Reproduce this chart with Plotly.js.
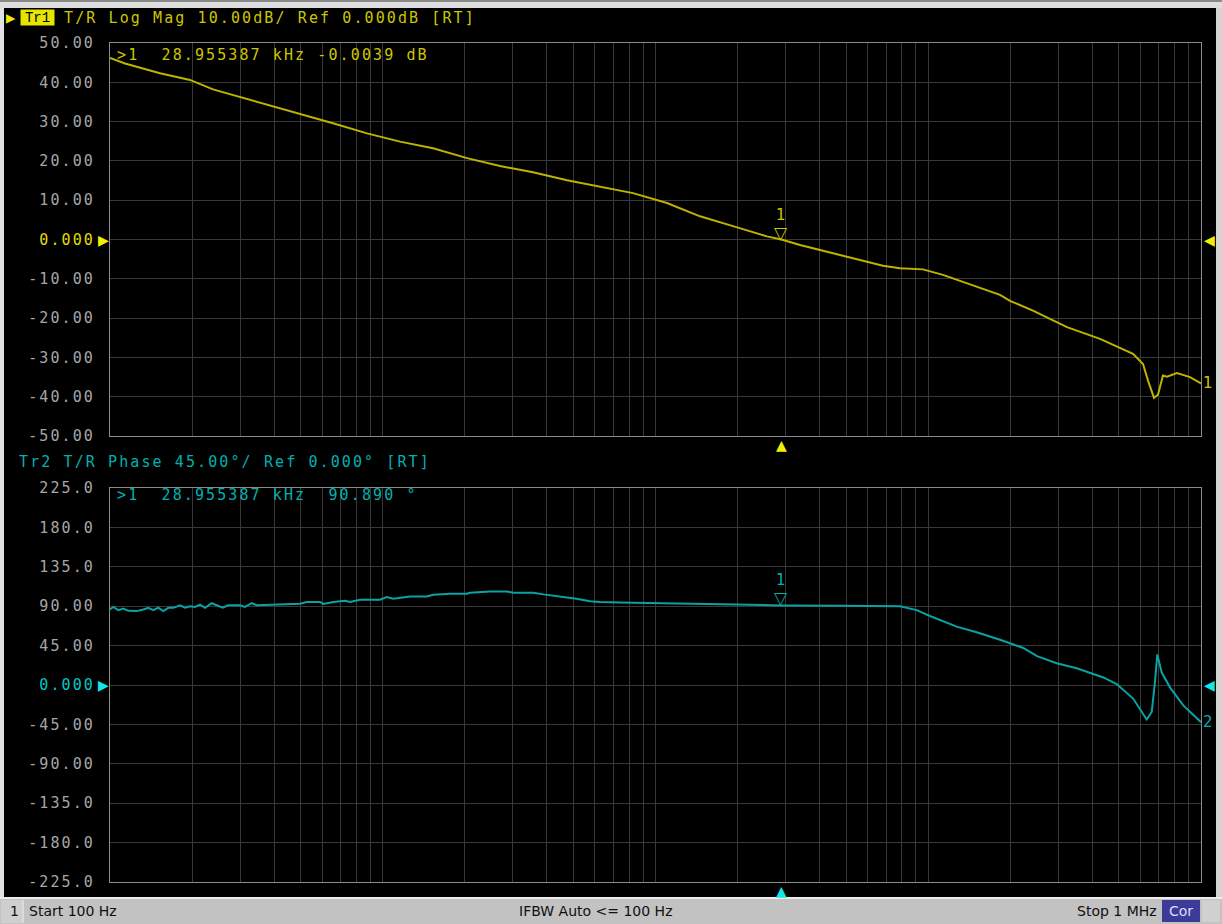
<!DOCTYPE html>
<html><head><meta charset="utf-8">
<script src="https://cdn.plot.ly/plotly-3.0.1.min.js"></script>
<style>
html,body{margin:0;padding:0;background:#c8c8c8;overflow:hidden;}
#chart{width:1222px;height:924px;}
text[style*="DejaVu Sans Mono"]{letter-spacing:2.1px;}
</style></head><body><div id="chart"></div>
<script>
// ---- data ----
const magFreqHz = [100, 113.5, 152.5, 196.5, 238.6, 299.6, 396, 497, 657, 876, 1157, 1529, 2037, 2691, 3555, 4738, 6259, 8270, 11020, 14560, 19240, 25630, 28955.387, 33870, 44760, 59630, 68230, 78780, 95680, 113200, 138700, 183300, 199400, 242100, 322600, 426300, 563300, 613000, 639300, 672500, 695500, 725400, 750300, 816600, 911200, 1000000];
const magDb = [46.2, 44.8, 42.3, 40.6, 38.2, 36.3, 33.8, 32.1, 29.6, 27.0, 24.9, 23.2, 20.7, 18.7, 17.1, 15.1, 13.4, 11.8, 9.3, 5.9, 3.4, 0.8, -0.0039, -1.4, -3.5, -5.6, -6.7, -7.3, -7.6, -9.0, -11.1, -14.1, -15.6, -18.1, -22.3, -25.3, -29.1, -31.7, -35.9, -40.3, -39.5, -34.6, -34.9, -34.0, -35.0, -36.6];

const phaseFreqHz = [100, 102.8, 107.3, 111.9, 116.7, 125.3, 132.5, 138.2, 144.1, 150.3, 156.8, 163.6, 170.7, 180.6, 188.4, 196.5, 204.9, 213.8, 223, 236, 246.2, 259, 271.5, 299.6, 312.6, 330.7, 345.1, 408.7, 497.3, 526.3, 588.8, 605.4, 658.9, 727, 758.6, 825.4, 977, 1034, 1093, 1259, 1449, 1532, 1765, 2032, 2089, 2474, 2847, 3010, 3565, 3878, 4466, 5141, 5752, 6259, 7413, 10390, 17240, 28955.387, 47490, 78780, 90700, 101500, 127100, 150500, 183300, 223100, 250500, 295800, 350200, 438300, 490900, 564800, 632200, 659600, 678200, 691500, 717700, 769600, 861100, 991600, 1000000];
const phaseDeg = [86.2, 89.2, 85.5, 87.3, 84.7, 84.4, 86.2, 88.1, 85.5, 88.4, 84.4, 88.1, 88.1, 91.1, 88.4, 90.0, 89.2, 91.8, 88.1, 93.4, 91.1, 88.4, 91.1, 91.1, 89.2, 93.4, 91.1, 91.8, 92.9, 94.8, 94.8, 92.6, 94.8, 96.3, 94.8, 97.4, 97.4, 100.5, 98.6, 101.2, 101.2, 103.1, 104.2, 104.2, 105.3, 106.9, 106.9, 105.3, 105.3, 103.5, 101.2, 98.6, 95.6, 94.8, 94.1, 93.3, 92.0, 90.89, 90.6, 90.0, 85.5, 78.8, 66.7, 60.3, 51.7, 42.3, 33.0, 24.8, 19.1, 8.6, 1.1, -15.8, -39.4, -30.8, 3.6, 34.9, 14.2, -2.7, -23.3, -42.1, -42.5];

const markerFreqHz = 28955.387;
const markerMagDb = -0.0039;
const markerPhaseDeg = 90.890;

const magTickVals = [50, 40, 30, 20, 10, 0, -10, -20, -30, -40, -50];
const magTickText = ['50.00', '40.00', '30.00', '20.00', '10.00', '<span style="color:#e0dc00">0.000</span>', '-10.00', '-20.00', '-30.00', '-40.00', '-50.00'];
const phaseTickVals = [225, 180, 135, 90, 45, 0, -45, -90, -135, -180, -225];
const phaseTickText = ['225.0', '180.0', '135.0', '90.00', '45.00', '<span style="color:#00c8c8">0.000</span>', '-45.00', '-90.00', '-135.0', '-180.0', '-225.0'];

const tr1Title = 'T/R Log Mag 10.00dB/ Ref 0.000dB [RT]';
const tr2Title = 'Tr2 T/R Phase 45.00°/ Ref 0.000° [RT]';
const statusStart = 'Start 100 Hz';
const statusIfbw = 'IFBW Auto &lt;= 100 Hz';
const statusStop = 'Stop 1 MHz';

// ---- geometry helpers (pixels -> paper) ----
const L = 110, R = 1201, T = 43, B = 882;
const px = x => (x - L) / (R - L);
const py = y => (B - y) / (B - T);

const YEL = '#bdb400', YEL_T = '#ccc600', YEL_B = '#f2f000';
const CYN = '#0aa2a2', CYN_T = '#00b0b0', CYN_B = '#10e8e8';
const GRID = '#383838', FRAME = '#8c8c8c';
const MONO = 'DejaVu Sans Mono';
const fmt = (v, d) => v.toFixed(d);
const nb = '\u00A0';

const traces = [
  {x: magFreqHz, y: magDb, xaxis: 'x', yaxis: 'y', mode: 'lines', line: {color: YEL, width: 2}, hoverinfo: 'skip'},
  {x: phaseFreqHz, y: phaseDeg, xaxis: 'x2', yaxis: 'y2', mode: 'lines', line: {color: CYN, width: 2}, hoverinfo: 'skip'}
];

const xCommon = {type: 'log', range: [2, 6], dtick: 'D1', showticklabels: false, ticks: '',
  showgrid: true, gridcolor: GRID, gridwidth: 1, zeroline: false,
  showline: true, mirror: true, linecolor: FRAME, linewidth: 1};
const yCommon = {tickmode: 'array', ticks: '', ticklabelstandoff: 11,
  tickfont: {family: MONO, size: 15, color: '#a6a6a6'},
  showgrid: true, gridcolor: GRID, gridwidth: 1, zeroline: false,
  showline: true, mirror: true, linecolor: FRAME, linewidth: 1};

const ann = [];
function txt(o) { ann.push(Object.assign({showarrow: false, xref: 'paper', yref: 'paper', xanchor: 'left', yanchor: 'middle', borderpad: 0}, o)); }

// header line 1
txt({x: px(5), y: py(18), text: '▶', font: {family: 'DejaVu Sans', size: 12, color: YEL_B}});
txt({x: px(20), y: py(18), text: 'Tr1', width: 33, height: 15, bgcolor: '#e6e400', font: {family: 'Liberation Mono', size: 14, color: '#000'}});
txt({x: px(63), y: py(18), text: tr1Title, font: {family: MONO, size: 15, color: YEL_T}});
txt({x: px(116), y: py(55), text: '&gt;1' + nb + nb + fmt(markerFreqHz / 1000, 6) + ' kHz ' + fmt(markerMagDb, 4) + ' dB', font: {family: MONO, size: 15, color: YEL_T}});
// header line 2
txt({x: px(18), y: py(462), text: tr2Title, font: {family: MONO, size: 15, color: CYN_T}});
txt({x: px(116), y: py(495), text: '&gt;1' + nb + nb + fmt(markerFreqHz / 1000, 6) + ' kHz' + nb + nb + fmt(markerPhaseDeg, 3) + ' °', font: {family: MONO, size: 15, color: CYN_T}});

// reference level arrows
txt({x: px(97), yref: 'y', y: 0, text: '▶', font: {family: 'DejaVu Sans', size: 14, color: YEL_B}});
txt({x: px(1203), yref: 'y', y: 0, text: '◀', font: {family: 'DejaVu Sans', size: 14, color: YEL_B}});
txt({x: px(97), yref: 'y2', y: 0, text: '▶', font: {family: 'DejaVu Sans', size: 14, color: CYN_B}});
txt({x: px(1203), yref: 'y2', y: 0, text: '◀', font: {family: 'DejaVu Sans', size: 14, color: CYN_B}});

// marker position arrows below the panels
txt({xref: 'x', x: Math.log10(markerFreqHz), xanchor: 'center', y: py(436), yanchor: 'top', text: '▲', font: {family: 'DejaVu Sans', size: 14, color: YEL_B}});
txt({xref: 'x2', x: Math.log10(markerFreqHz), xanchor: 'center', y: py(882), yanchor: 'top', text: '▲', font: {family: 'DejaVu Sans', size: 14, color: CYN_B}});

// marker symbols on the traces
txt({xref: 'x', yref: 'y', x: Math.log10(markerFreqHz), y: markerMagDb, xanchor: 'center', yanchor: 'bottom', yshift: -4, text: '▽', font: {family: 'DejaVu Sans', size: 17, color: YEL_T}});
txt({xref: 'x', yref: 'y', x: Math.log10(markerFreqHz), y: markerMagDb, xanchor: 'center', yanchor: 'bottom', yshift: 15, text: '1', font: {family: 'DejaVu Sans', size: 15, color: YEL_T}});
txt({xref: 'x2', yref: 'y2', x: Math.log10(markerFreqHz), y: markerPhaseDeg, xanchor: 'center', yanchor: 'bottom', yshift: -4, text: '▽', font: {family: 'DejaVu Sans', size: 17, color: CYN_T}});
txt({xref: 'x2', yref: 'y2', x: Math.log10(markerFreqHz), y: markerPhaseDeg, xanchor: 'center', yanchor: 'bottom', yshift: 15, text: '1', font: {family: 'DejaVu Sans', size: 15, color: CYN_T}});

// trace end labels
txt({x: px(1202), yref: 'y', y: magDb[magDb.length - 1], text: '1', font: {family: 'DejaVu Sans', size: 15, color: YEL_T}});
txt({x: px(1202), yref: 'y2', y: phaseDeg[phaseDeg.length - 1], text: '2', font: {family: 'DejaVu Sans', size: 15, color: CYN_T}});

// status bar
const SB = {family: 'DejaVu Sans', size: 14, color: '#101010'};
txt({x: px(9), y: py(911), text: '1', font: SB});
txt({x: px(28), y: py(911), text: statusStart, font: SB});
txt({x: px(596), xanchor: 'center', y: py(911), text: statusIfbw, font: SB});
txt({x: px(1158), xanchor: 'right', y: py(911), text: statusStop, font: SB});
txt({x: px(1181), xanchor: 'center', y: py(911), text: 'Cor', font: {family: 'DejaVu Sans', size: 14, color: '#dcdcff'}});

const rect = (x0, y0, x1, y1, fill, extra) => Object.assign({type: 'rect', xref: 'paper', yref: 'paper', x0: px(x0), x1: px(x1), y0: py(y0), y1: py(y1), fillcolor: fill, line: {width: 0}, layer: 'below'}, extra || {});
const shapes = [
  rect(0, 0, 1222, 2, '#8a8a8a'),
  rect(0, 2, 1222, 8, '#dedede'),
  rect(0, 8, 4, 897, '#e2e2e2'),
  rect(1216, 8, 1222, 897, '#d4d4d4'),
  rect(4, 8, 1216, 897, '#000000'),
  rect(0, 897, 1222, 899, '#ececec'),
  rect(0, 899, 1222, 924, '#c2c2c2'),
  rect(1, 900, 22, 923, '#cfcfcf'),
  {type: 'line', xref: 'paper', yref: 'paper', x0: px(23), x1: px(23), y0: py(900), y1: py(923), line: {color: '#f4f4f4', width: 1}, layer: 'below'},
  rect(1162, 900, 1200, 922, '#3c3c98'),
  rect(1202, 900, 1220, 922, '#d0d0d0')
];

const layout = {
  width: 1222, height: 924,
  margin: {l: L, r: 1222 - R, t: T, b: 924 - B, pad: 0},
  paper_bgcolor: '#c8c8c8', plot_bgcolor: '#000000',
  showlegend: false, hovermode: false,
  xaxis: Object.assign({}, xCommon, {anchor: 'y'}),
  xaxis2: Object.assign({}, xCommon, {anchor: 'y2', matches: 'x'}),
  yaxis: Object.assign({}, yCommon, {domain: [py(436), 1], range: [-50, 50], tickvals: magTickVals, ticktext: magTickText, anchor: 'x'}),
  yaxis2: Object.assign({}, yCommon, {domain: [0, py(488)], range: [-225, 225], tickvals: phaseTickVals, ticktext: phaseTickText, anchor: 'x2'}),
  annotations: ann,
  shapes: shapes
};

Plotly.newPlot('chart', traces, layout, {displayModeBar: false, staticPlot: true});
</script></body></html>
